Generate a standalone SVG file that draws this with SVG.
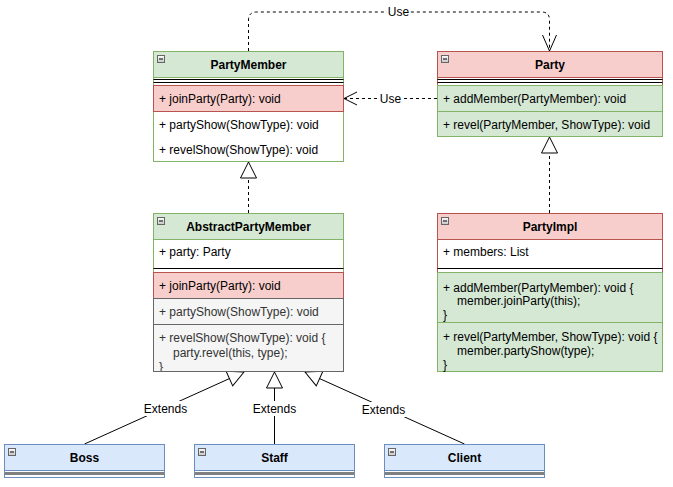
<svg xmlns="http://www.w3.org/2000/svg" width="673" height="487" viewBox="0 0 673 487">
<style>
text{font-family:"Liberation Sans",Arial,Helvetica,sans-serif;font-size:12px;fill:#000}
.t{font-weight:bold;text-anchor:middle}
.lbl{text-anchor:middle}
.gt{fill:#333}
.gbox{fill:#d5e8d4;stroke:#82b366}
.rbox{fill:#f8cecc;stroke:#b85450}
.bbox{fill:#dae8fc;stroke:#6c8ebf}
.grey{fill:#f5f5f5;stroke:#666666}
.wg{fill:#ffffff;stroke:#82b366}
.wr{fill:#ffffff;stroke:#b85450}
.sep{stroke:#000;stroke-width:1}
.gsep{stroke:#808080;stroke-width:3}
.dash{fill:none;stroke:#000;stroke-dasharray:3 3}
.solid{fill:none;stroke:#000}
.lbg{fill:#fff}
</style>
<defs>
<linearGradient id="tg" x1="0" y1="0" x2="0" y2="1">
<stop offset="0" stop-color="#ffffff"/>
<stop offset="1" stop-color="#c4c4c4"/>
</linearGradient>
<g id="tog">
<rect x="0.5" y="0.5" width="7" height="7" fill="url(#tg)" stroke="#666"/>
<line x1="2" y1="4" x2="6" y2="4" stroke="#000"/>
</g>
<marker id="tri" markerUnits="userSpaceOnUse" viewBox="-1 -1 18 18" markerWidth="18" markerHeight="18" refX="16" refY="8" orient="auto" overflow="visible">
<path d="M0,0 L16,8 L0,16 Z" fill="#fff" stroke="#000"/>
</marker>
<marker id="open16" markerUnits="userSpaceOnUse" viewBox="-1 -1 18 16" markerWidth="18" markerHeight="16" refX="16" refY="7" orient="auto" overflow="visible">
<path d="M0,0 L16,7 L0,14" fill="none" stroke="#000"/>
</marker>
<marker id="open13" markerUnits="userSpaceOnUse" viewBox="-1 -1 15 15" markerWidth="15" markerHeight="15" refX="13" refY="6.5" orient="auto" overflow="visible">
<path d="M0,0 L13,6.5 L0,13" fill="none" stroke="#000"/>
</marker>
<clipPath id="apmClip"><rect x="153" y="324" width="191" height="48"/></clipPath>
</defs>

<g id="connectors">
<path class="dash" d="M248.5,51 V20 Q248.5,12 256.5,12 H541.5 Q549.5,12 549.5,20 V51" marker-end="url(#open16)"/>
<rect class="lbg" x="387" y="5" width="23" height="14"/>
<text class="lbl" x="398.5" y="16">Use</text>
<path class="dash" d="M437,98.5 H344" marker-end="url(#open13)"/>
<rect class="lbg" x="379" y="91" width="23" height="14"/>
<text class="lbl" x="390.5" y="102.5">Use</text>
<path class="dash" d="M248.5,213 V162" marker-end="url(#tri)"/>
<path class="dash" d="M549.5,213 V137" marker-end="url(#tri)"/>
<path class="solid" d="M84.5,444 L244,372" marker-end="url(#tri)"/>
<path class="solid" d="M274.5,444 V372" marker-end="url(#tri)"/>
<path class="solid" d="M464.5,444 L305,372" marker-end="url(#tri)"/>
<rect class="lbg" x="143" y="401" width="45" height="15"/>
<text class="lbl" x="165.5" y="413">Extends</text>
<rect class="lbg" x="252" y="401" width="45" height="15"/>
<text class="lbl" x="274.5" y="413">Extends</text>
<rect class="lbg" x="361" y="402" width="45" height="15"/>
<text class="lbl" x="383.5" y="414">Extends</text>
</g>

<g id="PartyMember">
<rect class="wg" x="153.5" y="51.5" width="190" height="110"/>
<rect class="gbox" x="153.5" y="51.5" width="190" height="26"/>
<use href="#tog" x="157" y="55"/>
<text class="t" x="248.5" y="68.5">PartyMember</text>
<line class="sep" x1="153.5" y1="79.5" x2="343.5" y2="79.5"/>
<line class="sep" x1="153.5" y1="82.5" x2="343.5" y2="82.5"/>
<rect class="rbox" x="153.5" y="85.5" width="190" height="26"/>
<text x="159" y="102.5">+ joinParty(Party): void</text>
<text x="159" y="128.5">+ partyShow(ShowType): void</text>
<text x="159" y="154">+ revelShow(ShowType): void</text>
</g>

<g id="Party">
<rect class="wr" x="437.5" y="51.5" width="225" height="85"/>
<rect class="rbox" x="437.5" y="51.5" width="225" height="26"/>
<use href="#tog" x="441" y="55"/>
<text class="t" x="550" y="68.5">Party</text>
<line class="sep" x1="437.5" y1="79.5" x2="662.5" y2="79.5"/>
<line class="sep" x1="437.5" y1="82.5" x2="662.5" y2="82.5"/>
<rect class="gbox" x="437.5" y="85.5" width="225" height="26"/>
<rect class="gbox" x="437.5" y="111.5" width="225" height="25"/>
<text x="443" y="102.5">+ addMember(PartyMember): void</text>
<text x="443" y="128.5">+ revel(PartyMember, ShowType): void</text>
</g>

<g id="AbstractPartyMember">
<rect class="wg" x="153.5" y="213.5" width="190" height="158"/>
<rect class="gbox" x="153.5" y="213.5" width="190" height="26"/>
<use href="#tog" x="157" y="217"/>
<text class="t" x="248.5" y="230.5">AbstractPartyMember</text>
<text x="159" y="256">+ party: Party</text>
<line class="sep" x1="153.5" y1="268.5" x2="343.5" y2="268.5" stroke-width="1.5"/>
<rect class="rbox" x="153.5" y="272.5" width="190" height="26"/>
<text x="159" y="290">+ joinParty(Party): void</text>
<rect class="grey" x="153.5" y="298.5" width="190" height="26"/>
<text class="gt" x="159" y="316">+ partyShow(ShowType): void</text>
<rect class="grey" x="153.5" y="324.5" width="190" height="47"/>
<g clip-path="url(#apmClip)">
<text class="gt" x="159" y="341.5">+ revelShow(ShowType): void {</text>
<text class="gt" x="173" y="357">party.revel(this, type);</text>
<text class="gt" x="159" y="371">}</text>
</g>
<rect x="153.5" y="324.5" width="190" height="47" fill="none" stroke="#666666"/>
</g>

<g id="PartyImpl">
<rect class="wr" x="437.5" y="213.5" width="225" height="158"/>
<rect class="rbox" x="437.5" y="213.5" width="225" height="26"/>
<use href="#tog" x="441" y="217"/>
<text class="t" x="550" y="230.5">PartyImpl</text>
<text x="443" y="256">+ members: List</text>
<line class="sep" x1="437.5" y1="268.5" x2="662.5" y2="268.5" stroke-width="1.5"/>
<rect class="gbox" x="437.5" y="272.5" width="225" height="50"/>
<text x="443" y="291.5">+ addMember(PartyMember): void {</text>
<text x="457" y="305">member.joinParty(this);</text>
<text x="443" y="319">}</text>
<rect class="gbox" x="437.5" y="322.5" width="225" height="49"/>
<text x="443" y="341">+ revel(PartyMember, ShowType): void {</text>
<text x="457" y="355">member.partyShow(type);</text>
<text x="443" y="368.5">}</text>
</g>

<g id="Boss">
<rect x="4.5" y="444.5" width="160" height="33" fill="#fff" stroke="#6c8ebf"/>
<rect class="bbox" x="4.5" y="444.5" width="160" height="26"/>
<line class="gsep" x1="5" y1="473.5" x2="164" y2="473.5"/>
<use href="#tog" x="8" y="448"/>
<text class="t" x="84.5" y="461.5">Boss</text>
</g>

<g id="Staff">
<rect x="194.5" y="444.5" width="160" height="33" fill="#fff" stroke="#6c8ebf"/>
<rect class="bbox" x="194.5" y="444.5" width="160" height="26"/>
<line class="gsep" x1="195" y1="473.5" x2="354" y2="473.5"/>
<use href="#tog" x="198" y="448"/>
<text class="t" x="274.5" y="461.5">Staff</text>
</g>

<g id="Client">
<rect x="384.5" y="444.5" width="160" height="33" fill="#fff" stroke="#6c8ebf"/>
<rect class="bbox" x="384.5" y="444.5" width="160" height="26"/>
<line class="gsep" x1="385" y1="473.5" x2="544" y2="473.5"/>
<use href="#tog" x="388" y="448"/>
<text class="t" x="464.5" y="461.5">Client</text>
</g>
</svg>
